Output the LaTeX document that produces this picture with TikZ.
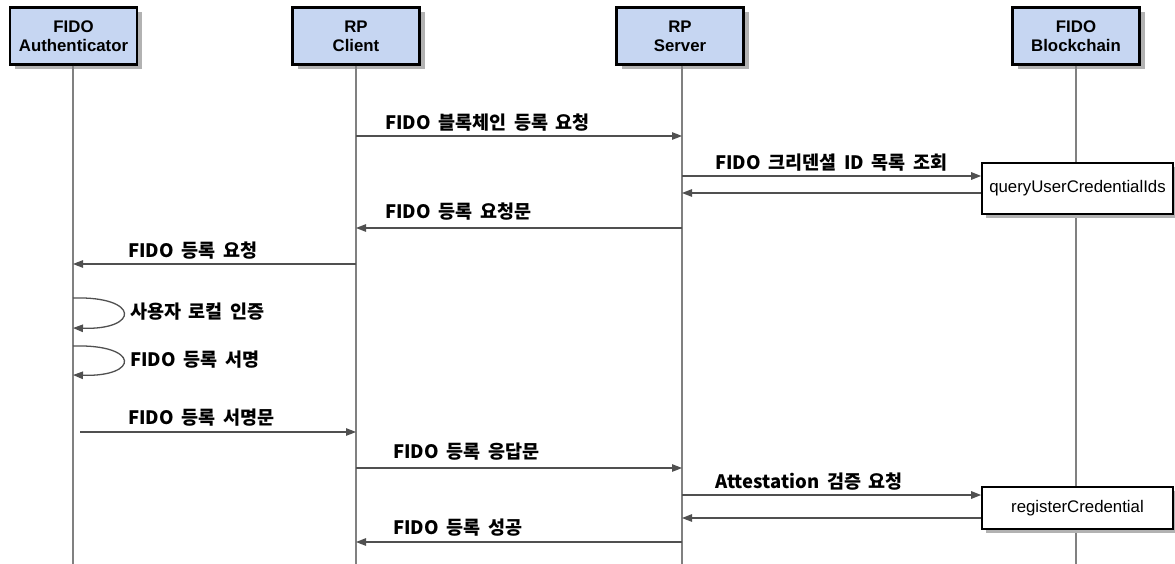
\documentclass[tikz,border=0pt]{standalone}
\usepackage{fontspec}
\setmainfont{Liberation Sans}
\newfontfamily\kr{Noto Sans CJK KR}[WordSpace=1.8]
\usetikzlibrary{arrows.meta,shadows}
\definecolor{hdrfill}{HTML}{C6D6F2}
\definecolor{lineg}{HTML}{505050}
\definecolor{lifeg}{HTML}{808080}
\tikzset{
  actor/.style={draw=black, line width=2.2pt, fill=hdrfill, minimum width=127pt, minimum height=57pt,
    align=center, font=\fontsize{16.8}{19}\selectfont\bfseries, inner sep=0pt,
    drop shadow={shadow xshift=5pt, shadow yshift=-5pt, fill=black!30, opacity=1}},
  callbox/.style={draw=black, line width=1.6pt, fill=white, minimum width=191pt, inner sep=0pt,
    font=\fontsize{16.8}{19}\selectfont,
    drop shadow={shadow xshift=4pt, shadow yshift=-4pt, fill=black!30, opacity=1}},
  lifeline/.style={draw=lifeg, line width=1.3pt},
  msg/.style={draw=lineg, line width=1.3pt, -{Triangle[length=10pt,width=7.5pt]}},
  lbl/.style={anchor=west, inner sep=0pt, font=\kr\bfseries\fontsize{18.5}{21}\selectfont}
}
\begin{document}
\begin{tikzpicture}[x=1pt,y=-1pt]
\useasboundingbox (0,0) rectangle (1175,564);
% actors
\node[actor] (auth) at (73.5,36) {FIDO\\Authenticator};
\node[actor] (cli) at (356,36) {RP\\Client};
\node[actor] (srv) at (680,36) {RP\\Server};
\node[actor] (bc) at (1076,36) {FIDO\\Blockchain};
% lifeline ends
\coordinate (authE) at (73,564);
\coordinate (cliE) at (356,564);
\coordinate (srvE) at (682,564);
\coordinate (bcE) at (1076,564);
\draw[lifeline] (auth.south) ++(-0.5,0) coordinate (authS) (authS) -- (authE);
\draw[lifeline] (cli.south) -- (cliE);
\draw[lifeline] (srv.south) ++(2,0) coordinate (srvS) (srvS) -- (srvE);
\draw[lifeline] (bc.south) -- (bcE);
% call boxes
\node[callbox, minimum height=51pt] (q) at (1077.5,188.5) {queryUserCredentialIds};
\node[callbox, minimum height=42pt] (r) at (1077.5,508) {registerCredential};
% message points
\coordinate (c1) at (356,136); \coordinate (s1) at (682,136);
\coordinate (s2) at (682,176);
\coordinate (s2b) at (682,193);
\coordinate (s3) at (682,228); \coordinate (c3) at (356,228);
\coordinate (c4) at (356,264); \coordinate (a4) at (73,264);
\coordinate (a5a) at (73,298); \coordinate (a5b) at (73,328);
\coordinate (a6a) at (73,346); \coordinate (a6b) at (73,375);
\coordinate (a7) at (80,432); \coordinate (c7) at (356,432);
\coordinate (c8) at (356,468); \coordinate (s8) at (682,468);
\coordinate (s9) at (682,495);
\coordinate (s9b) at (682,518);
\coordinate (s10) at (682,542); \coordinate (c10) at (356,542);
% messages
\draw[msg] (c1) -- (s1);
\node[lbl] (l1) at (385,123) {FIDO 블록체인 등록 요청};
\draw[msg] (s2) -- (s2 -| q.west);
\node[lbl] (l2) at (715,163) {FIDO 크리덴셜 ID 목록 조회};
\draw[msg] (s2b -| q.west) -- (s2b);
\draw[msg] (s3) -- (c3);
\node[lbl] (l3) at (385,212) {FIDO 등록 요청문};
\draw[msg] (c4) -- (a4);
\node[lbl] (l4) at (128,251) {FIDO 등록 요청};
\draw[msg] (a5a) .. controls (140,296) and (140,330) .. (a5b);
\node[lbl] (l5) at (130,312) {사용자 로컬 인증};
\draw[msg] (a6a) .. controls (140,344) and (140,377) .. (a6b);
\node[lbl] (l6) at (130,360) {FIDO 등록 서명};
\draw[msg] (a7) -- (c7);
\node[lbl] (l7) at (128,418) {FIDO 등록 서명문};
\draw[msg] (c8) -- (s8);
\node[lbl] (l8) at (393,452) {FIDO 등록 응답문};
\draw[msg] (s9) -- (s9 -| r.west);
\node[lbl] (l9) at (715,482) {Attestation 검증 요청};
\draw[msg] (s9b -| r.west) -- (s9b);
\draw[msg] (s10) -- (c10);
\node[lbl] (l10) at (393,528) {FIDO 등록 성공};
\end{tikzpicture}
\end{document}
